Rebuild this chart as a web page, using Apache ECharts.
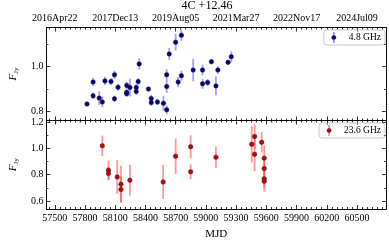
<!DOCTYPE html>
<html><head><meta charset="utf-8">
<script src="https://cdn.jsdelivr.net/npm/echarts@6/dist/echarts.min.js"></script>
<style>html,body{margin:0;padding:0;background:#fff}#c{width:389px;height:241px}</style>
</head><body><div id="c"></div>
<script>
const chartTitle = '4C +12.46';
const mjdTicks = [57500,57800,58100,58400,58700,59000,59300,59600,59900,60200,60500];
const dateTicks = [57500,58100,58700,59300,59900,60500];
const dateLabels = ['2016Apr22','2017Dec13','2019Aug05','2021Mar27','2022Nov17','2024Jul09'];
const yMajorTop = [0.8,1.0];
const yMinorTop = [0.9,1.1];
const yMajorBot = [0.6,0.8,1.0,1.2];
const yMinorBot = [0.7,0.9,1.1];

const mjd48 = [57820,57881,57881,57941,57972,57998,58058,58093,58093,58128,58214,58214,58214,58246,58309,58309,58328,58338,58430,58458,58458,58519,58579,58611,58611,58611,58636,58700,58725,58757,58757,58874,58967,58967,59017,59055,59100,59119,59220,59252];
const flux48 = [0.834,0.931,0.870,0.860,0.843,0.936,0.933,0.963,0.857,0.908,0.916,0.886,0.879,0.907,0.907,0.889,0.933,1.011,0.900,0.858,0.840,0.843,0.837,0.808,0.911,0.963,1.055,1.107,0.931,0.959,1.138,0.984,0.984,0.923,0.929,1.021,0.914,0.984,1.018,1.043];
const err48 = [0.010,0.018,0.014,0.030,0.024,0.018,0.015,0.018,0.014,0.015,0.015,0.012,0.012,0.040,0.014,0.014,0.015,0.025,0.010,0.016,0.014,0.014,0.033,0.020,0.028,0.025,0.027,0.037,0.022,0.022,0.026,0.050,0.024,0.022,0.015,0.012,0.043,0.017,0.012,0.024];

const mjd236 = [57972,58033,58033,58120,58157,58157,58246,58576,58700,58849,58849,59100,59455,59484,59484,59554,59579,59579,59579,59579];
const flux236 = [1.020,0.835,0.810,0.783,0.728,0.687,0.758,0.745,0.941,1.013,0.822,0.933,1.032,1.091,0.956,1.047,0.926,0.847,0.770,0.750];
const err236 = [0.078,0.074,0.050,0.130,0.140,0.100,0.118,0.130,0.135,0.087,0.056,0.080,0.138,0.094,0.128,0.078,0.099,0.060,0.070,0.079];

const X0 = 57417, X1 = 60788;
const FONT = 'Liberation Serif';
const minorX = [];
for (let v = 57450; v < X1; v += 50) if (mjdTicks.indexOf(v) < 0) minorX.push(v);

const chart = echarts.init(document.getElementById('c'), null, {renderer:'canvas'});

function xAx(grid, pos, ticks, len, labels, fmt, extra) {
  return Object.assign({
    type:'value', gridIndex:grid, position:pos, min:X0, max:X1,
    axisLine:{show:true, lineStyle:{color:'#000', width:0.8}},
    axisTick:{show:true, inside:true, length:len, customValues:ticks, lineStyle:{color:'#000', width:0.8}},
    axisLabel:{show:!!labels, customValues:labels||ticks, fontFamily:FONT, fontSize:10, color:'#000', margin:4, formatter:fmt},
    splitLine:{show:false}
  }, extra||{});
}
function yAx(grid, pos, mn, mx, ticks, len, labels) {
  return {
    type:'value', gridIndex:grid, position:pos, min:mn, max:mx,
    axisLine:{show:true, lineStyle:{color:'#000', width:0.8}},
    axisTick:{show:true, inside:true, length:len, customValues:ticks, lineStyle:{color:'#000', width:0.8}},
    axisLabel:{show:!!labels, customValues:labels||ticks, fontFamily:FONT, fontSize:10, color:'#000', margin:3,
      formatter:v=>v.toFixed(1)},
    splitLine:{show:false}
  };
}
const ylab = {
  nameLocation:'middle', nameGap:24, nameRotate:90,
  nameTextStyle:{fontFamily:FONT, color:'#000', rich:{
    f:{fontFamily:FONT, fontStyle:'italic', fontSize:11, color:'#000'},
    s:{fontFamily:FONT, fontSize:7, color:'#000', padding:[6,0,0,0]}
  }}
};

const mjdFmt = v => String(Math.round(v));
const dateFmt = v => dateLabels[dateTicks.indexOf(Math.round(v))] || '';

const xAxis = [
  xAx(0,'bottom',mjdTicks,4,null,mjdFmt),
  xAx(0,'bottom',minorX,2,null,mjdFmt),
  xAx(0,'top',dateTicks,4,dateTicks,dateFmt),
  xAx(0,'top',minorX.concat(mjdTicks.filter(v=>dateTicks.indexOf(v)<0)),2,null,mjdFmt),
  xAx(1,'bottom',mjdTicks,4,mjdTicks,mjdFmt,{name:'MJD', nameLocation:'middle', nameGap:20, nameTextStyle:{fontFamily:FONT, fontSize:11, color:'#000'}}),
  xAx(1,'bottom',minorX,2,null,mjdFmt),
  xAx(1,'top',mjdTicks,4,null,mjdFmt),
  xAx(1,'top',minorX,2,null,mjdFmt)
];
const yT0 = 0.761, yT1 = 1.172, yB0 = 0.539, yB1 = 1.213;
const yAxis = [
  Object.assign(yAx(0,'left',yT0,yT1,yMajorTop,4,yMajorTop), ylab, {name:'{f|F}{s|Jy}'}),
  yAx(0,'left',yT0,yT1,yMinorTop,2,null),
  yAx(0,'right',yT0,yT1,yMajorTop,4,null),
  yAx(0,'right',yT0,yT1,yMinorTop,2,null),
  Object.assign(yAx(1,'left',yB0,yB1,yMajorBot,4,yMajorBot), ylab, {name:'{f|F}{s|Jy}'}),
  yAx(1,'left',yB0,yB1,yMinorBot,2,null),
  yAx(1,'right',yB0,yB1,yMajorBot,4,null),
  yAx(1,'right',yB0,yB1,yMinorBot,2,null)
];

function errSeries(mjd, flux, err, xi, yi, color) {
  return {
    type:'custom', xAxisIndex:xi, yAxisIndex:yi, silent:true, z:1,
    data: mjd.map((m,i)=>[m, flux[i]-err[i], flux[i]+err[i]]),
    encode:{x:0, y:[1,2]},
    renderItem:(params, api) => {
      const a = api.coord([api.value(0), api.value(1)]);
      const b = api.coord([api.value(0), api.value(2)]);
      return {type:'line', shape:{x1:a[0], y1:a[1], x2:b[0], y2:b[1]}, style:{stroke:color, lineWidth:1.8}};
    }
  };
}
function ptSeries(name, mjd, flux, xi, yi, color) {
  return {
    type:'scatter', name:name, xAxisIndex:xi, yAxisIndex:yi, z:3,
    symbol:'circle', symbolSize:4.5,
    itemStyle:{color:color, borderColor:'#222', borderWidth:0.5, opacity:1},
    data: mjd.map((m,i)=>[m, flux[i]])
  };
}
function icon(bar, dot) {
  const svg = "<svg xmlns='http://www.w3.org/2000/svg' width='8' height='12'><rect x='3.1' y='0' width='1.8' height='12' fill='"+bar+"'/><circle cx='4' cy='6' r='2.3' fill='"+dot+"' stroke='#222' stroke-width='0.5'/></svg>";
  return 'image://data:image/svg+xml;charset=utf-8,' + encodeURIComponent(svg);
}
const legBase = {
  orient:'vertical', borderColor:'#bbb', borderWidth:0.8, borderRadius:3,
  padding:[2,4,2,4], itemWidth:12, itemHeight:11, itemGap:2,
  textStyle:{fontFamily:FONT, fontSize:9.5, color:'#000', padding:[0,0,0,4]}
};

chart.setOption({
  animation:false,
  backgroundColor:'#fff',
  title:{text:chartTitle, left:207, top:0, padding:0, textAlign:'center', textStyle:{fontFamily:FONT, fontSize:12, fontWeight:'normal', color:'#000'}},
  grid:[
    {left:32, top:27.5, width:354, height:93},
    {left:32, top:120.5, width:354, height:91}
  ],
  xAxis:xAxis, yAxis:yAxis,
  legend:[
    Object.assign({}, legBase, {right:4, top:30, data:[{name:'4.8 GHz', icon:icon('#8a8aff','#00008b')}]}),
    Object.assign({}, legBase, {right:4, top:123, data:[{name:'23.6 GHz', icon:icon('#ff8a8a','#cc0000')}]})
  ],
  series:[
    errSeries(mjd48, flux48, err48, 0, 0, 'rgba(70,70,255,0.5)'),
    ptSeries('4.8 GHz', mjd48, flux48, 0, 0, '#00008b'),
    errSeries(mjd236, flux236, err236, 4, 4, 'rgba(255,70,70,0.55)'),
    ptSeries('23.6 GHz', mjd236, flux236, 4, 4, '#cc0000')
  ]
});
</script></body></html>
